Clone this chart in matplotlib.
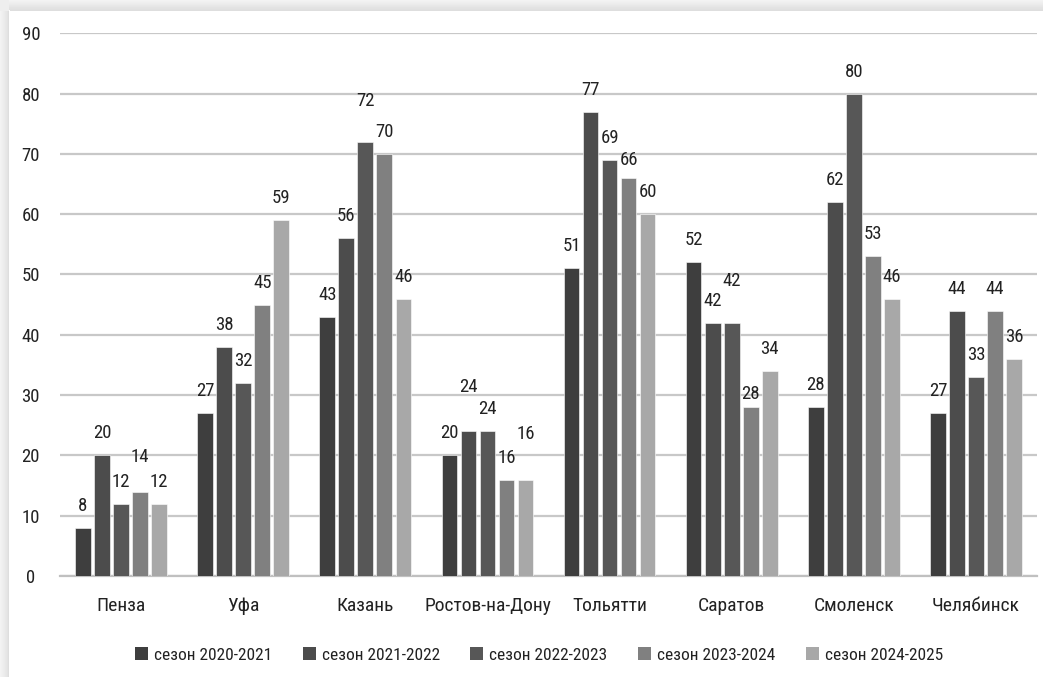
import numpy as np
import matplotlib.pyplot as plt
from matplotlib import font_manager
from matplotlib.patches import Patch

cities = ['Пенза', 'Уфа', 'Казань', 'Ростов-на-Дону', 'Тольятти', 'Саратов', 'Смоленск', 'Челябинск']
seasons = ['сезон 2020-2021', 'сезон 2021-2022', 'сезон 2022-2023', 'сезон 2023-2024', 'сезон 2024-2025']
s2020 = [8, 27, 43, 20, 51, 52, 28, 27]
s2021 = [20, 38, 56, 24, 77, 42, 62, 44]
s2022 = [12, 32, 72, 24, 69, 42, 80, 33]
s2023 = [14, 45, 70, 16, 66, 28, 53, 44]
s2024 = [12, 59, 46, 16, 60, 34, 46, 36]
values = [s2020, s2021, s2022, s2023, s2024]

colors = ['#3e3e3e', '#4c4c4c', '#575757', '#808080', '#a8a8a8']

# some labels sit higher/lower than the rest (pixel offset of label centre above bar top)
label_shift = {(0, 3): 35, (2, 2): 41, (3, 1): 44, (3, 4): 46, (4, 3): 18, (5, 2): 42, (5, 3): 13}

available = {f.name for f in font_manager.fontManager.ttflist}
family = 'DejaVu Sans'
for name in ['Liberation Sans Narrow', 'DejaVu Sans Condensed', 'Roboto Condensed', 'Open Sans Condensed', 'Liberation Sans']:
    if name in available:
        family = name
        break
plt.rcParams['font.family'] = [family, 'DejaVu Sans']
txt_color = '#222222'

W, H, DPI = 1043, 677, 100
fig = plt.figure(figsize=(W / DPI, H / DPI), dpi=DPI)

# soft shadow along the top and left edge of the panel
bg = fig.add_axes([0, 0, 1, 1], zorder=-10)
shade = np.ones((H, W))
for k in range(11):
    v = 0.95 - 0.08 * k / 10
    shade[k, k:] = v
    shade[k:, min(k, 8)] = np.minimum(shade[k:, min(k, 8)], v)
shade[:11, :9] = 0.93
bg.imshow(shade, cmap='gray', vmin=0, vmax=1, aspect='auto', interpolation='bilinear')
bg.axis('off')

ax = fig.add_axes([60 / W, 1 - 576 / H, (1037 - 60) / W, (576 - 33.3) / H])
x = np.arange(len(cities))
step = 0.1556
width = 0.128
for i, (vals, col, lab) in enumerate(zip(values, colors, seasons)):
    pos = x + (i - 2) * step
    ax.bar(pos, vals, width=width, color=col, edgecolor='white', linewidth=0.4, label=lab, zorder=3)
    for j, v in enumerate(vals):
        dy = label_shift.get((j, i), 22)
        ax.annotate(str(v), (pos[j], v), xytext=(0, dy * 0.72), textcoords='offset points',
                    ha='center', va='center', fontsize=13.5, color=txt_color)

ax.set_xlim(-0.5, len(cities) - 0.5)
ax.set_ylim(0, 90)
ax.set_yticks(range(0, 91, 10))
ax.yaxis.grid(True, color='#c8c8c8', linewidth=1.6, zorder=0)
ax.set_axisbelow(True)
for s in ['top', 'right', 'left']:
    ax.spines[s].set_visible(False)
ax.spines['bottom'].set_color('#c0c0c0')
ax.spines['bottom'].set_linewidth(1.6)
ax.set_xticks(x)
ax.set_xticklabels(cities)
ax.tick_params(axis='x', length=0, pad=15, labelsize=14, labelcolor=txt_color)
ax.tick_params(axis='y', length=0, pad=21, labelsize=13.5, labelcolor=txt_color)
for t in ax.get_yticklabels():
    t.set_horizontalalignment('center')
ax.set_facecolor('none')

handles = [Patch(facecolor=c, edgecolor='none') for c in colors]
fig.legend(handles, seasons, loc='center', bbox_to_anchor=(539 / W, 1 - 655 / H), ncol=5,
           frameon=False, fontsize=12.5, handlelength=0.75, handleheight=0.75,
           handletextpad=0.35, columnspacing=1.75, labelcolor=txt_color)

fig.savefig('out.png', dpi=DPI)
